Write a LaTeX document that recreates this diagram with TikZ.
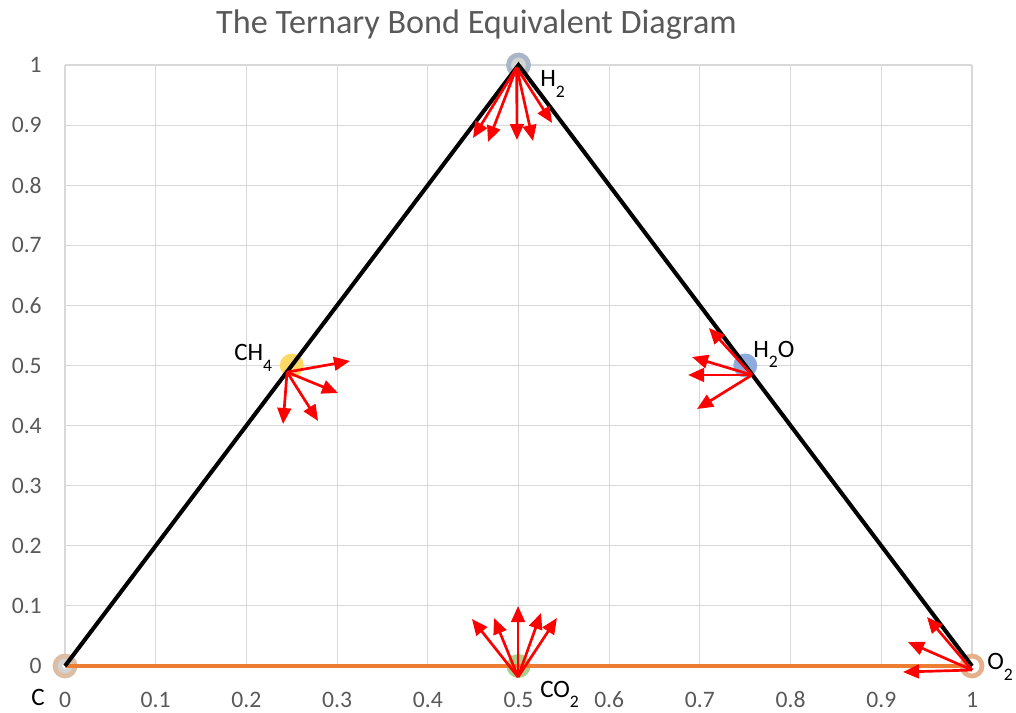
\documentclass[tikz,border=0pt]{standalone}
\usepackage{fontspec}
\setmainfont{Carlito}
\usepackage{tikz}
\usetikzlibrary{arrows.meta}
\definecolor{gridgray}{HTML}{D9D9D9}
\definecolor{txtgray}{HTML}{595959}
\definecolor{baseorange}{HTML}{ED7D31}
\definecolor{vecred}{HTML}{FF0000}
\definecolor{ringtan}{HTML}{DDBDA3}
\definecolor{ringsalmon}{HTML}{E6B08A}
\definecolor{ringblue}{HTML}{A9B6C8}
\definecolor{innergray}{HTML}{D3D3D3}
\definecolor{dotyellow}{HTML}{FFD966}
\definecolor{dotblue}{HTML}{8FAADC}
\definecolor{dotgreen}{HTML}{A9D18E}
\newcommand{\lsub}[1]{\raisebox{-0.26cm}{\fontsize{12.5}{13}\selectfont #1}}
\tikzset{
  gline/.style  ={draw=gridgray, line width=0.8pt},
  axlbl/.style  ={text=txtgray, font=\fontsize{16.8}{18}\selectfont, inner sep=0pt},
  spc/.style    ={anchor=base west, inner sep=0pt, font=\fontsize{17.8}{19}\selectfont},
  dot/.style    ={circle, minimum size=0.6cm, inner sep=0pt},
  ring/.style   ={circle, minimum size=0.5cm, inner sep=0pt, line width=0.12cm, fill=innergray,
                  path picture={\fill[white] (path picture bounding box.center) circle (0.07cm);}},
  side/.style   ={draw=black, line width=2.9pt, line join=miter},
  base/.style   ={draw=baseorange, line width=2.2pt},
  vec/.style    ={draw=vecred, line width=1.9pt, -{Triangle[length=4mm,width=3.4mm]}},
}

\begin{document}
\begin{tikzpicture}[x=22.675cm, y=15.025cm]
  \useasboundingbox (-0.07167,-0.07654) rectangle (1.04851,1.10815);

  % grid
  \foreach \i in {0,...,10} {
    \draw[gline] (\i/10,0) -- (\i/10,1);
    \draw[gline] (0,\i/10) -- (1,\i/10);
  }

  % axis labels
  \foreach \t [count=\i from 0] in {0,0.1,0.2,0.3,0.4,0.5,0.6,0.7,0.8,0.9,1} {
    \node[axlbl, anchor=east] (yl\i) at (-0.0254,\i/10) {\t};
    \node[axlbl] (xl\i) at (\i/10,-0.0557) {\t};
  }

  \node[text=txtgray, font=\fontsize{24.3}{26}\selectfont, anchor=base] (title) at (0.4537,1.0532) {The Ternary Bond Equivalent Diagram};

  % markers
  \node[ring, draw=ringtan] (mC) at (0,0) {};
  \node[ring, draw=ringsalmon, fill=white] (mO) at (1,0) {};
  \node[ring, draw=ringblue] (mH) at (0.5,1) {};
  \node[dot, fill=dotyellow] (mCH) at (0.25,0.5) {};
  \node[dot, fill=dotblue] (mHO) at (0.75,0.5) {};
  \node[dot, fill=dotgreen] (mCO) at (0.5,0) {};

  % triangle
  \draw[base] (mC.center) -- (mO.center);
  \draw[side] (mC.center) -- (mH.center) -- (mO.center);

  % arrows
  \coordinate (sH) at (0.498,0.996);
  \coordinate (sCH) at (0.2448,0.489);
  \coordinate (sHO) at (0.7574,0.4842);
  \coordinate (sCO) at (0.4995,-0.0183);
  \coordinate (sO) at (1.0,-0.0067);
  \foreach \tx/\ty [count=\k] in {0.4498/0.8785, 0.4664/0.8719, 0.4983/0.8752, 0.516/0.8735, 0.537/0.9035} {
    \coordinate (h\k) at (\tx,\ty);
    \draw[vec] (sH) -- (h\k);
  }
  \foreach \tx/\ty [count=\k] in {0.3142/0.5075, 0.301/0.4542, 0.2404/0.4027, 0.279/0.4077} {
    \coordinate (ch\k) at (\tx,\ty);
    \draw[vec] (sCH) -- (ch\k);
  }
  \foreach \tx/\ty [count=\k] in {0.710/0.5624, 0.6913/0.5141, 0.6869/0.4842, 0.6968/0.4276} {
    \coordinate (ho\k) at (\tx,\ty);
    \draw[vec] (sHO) -- (ho\k);
  }
  \foreach \tx/\ty [count=\k] in {0.4487/0.0782, 0.473/0.0799, 0.4995/0.0998, 0.5248/0.0882, 0.5424/0.0799} {
    \coordinate (co\k) at (\tx,\ty);
    \draw[vec] (sCO) -- (co\k);
  }
  \foreach \tx/\ty [count=\k] in {0.9504/0.0815, 0.9294/0.0399, 0.9239/-0.01} {
    \coordinate (o\k) at (\tx,\ty);
    \draw[vec] (sO) -- (o\k);
  }

  % species labels
  \node[spc] (lH) at (0.5237,0.9634) {H\lsub{2}};
  \node[spc] (lCH) at (0.1863,0.5075) {CH\lsub{4}};
  \node[spc] (lHO) at (0.7586,0.5141) {H\lsub{2}O};
  \node[spc] (lCO) at (0.5237,-0.0516) {CO\lsub{2}};
  \node[spc] (lO) at (1.0165,-0.0066) {O\lsub{2}};
  \node[spc] (lC) at (-0.0375,-0.0649) {C};
\end{tikzpicture}
\end{document}
